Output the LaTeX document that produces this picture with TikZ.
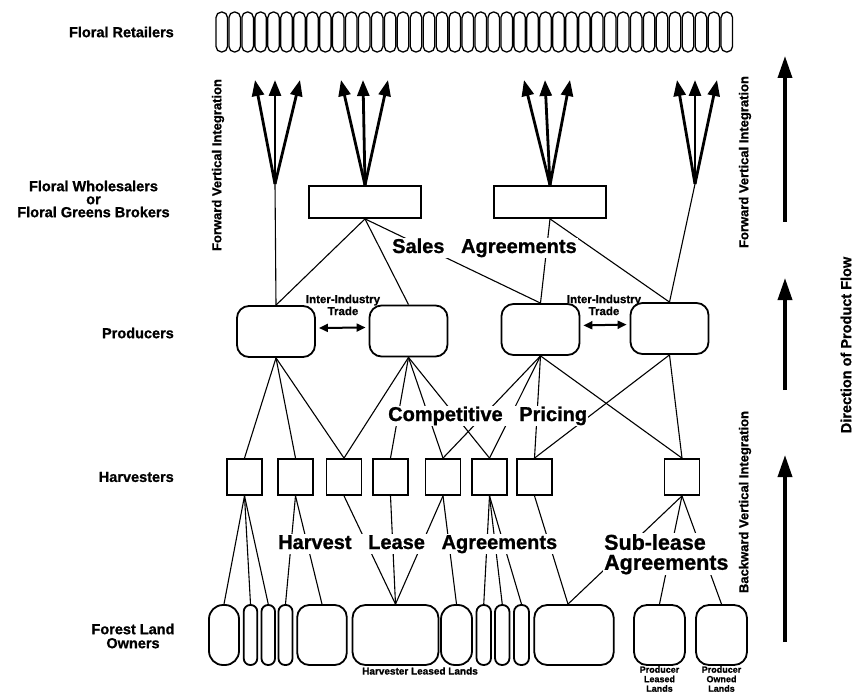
\documentclass[tikz,border=0pt]{standalone}
\usepackage{fontspec}
\setmainfont{Liberation Sans}[BoldFeatures={FakeBold=1}]
\usetikzlibrary{arrows.meta,positioning,calc}

\begin{document}
\begin{tikzpicture}[x=1pt,y=-1pt,
    retailer/.style={draw,line width=1.3pt,rounded corners=5.5pt,minimum width=11.5pt,minimum height=40pt,inner sep=0pt},
    wholesaler/.style={draw,line width=1.8pt,minimum width=112pt,minimum height=32pt,inner sep=0pt},
    producer/.style={draw,line width=1.8pt,rounded corners=12pt,minimum width=78pt,minimum height=51pt,inner sep=0pt},
    harvester/.style={draw,line width=1.8pt,minimum width=35pt,minimum height=36pt,inner sep=0pt},
    land/.style={draw,line width=1.8pt,minimum height=60pt,inner sep=0pt},
    link/.style={line width=1.1pt},
    fanarrow/.style={line width=2.8pt,-{Triangle[length=16pt,width=12pt]}},
    flowarrow/.style={line width=3.5pt,-{Triangle[length=22pt,width=14pt]}},
    tradearrow/.style={line width=2pt,{Triangle[length=9pt,width=8pt]}-{Triangle[length=9pt,width=8pt]},shorten <=3pt,shorten >=3pt},
    level/.style={font=\fontsize{14.5}{13}\selectfont\bfseries,align=center,inner sep=0pt},
    deal/.style={font=\fontsize{20}{20}\selectfont\bfseries,fill=white,inner sep=1pt},
    side/.style={font=\fontsize{13}{14}\selectfont\bfseries,rotate=90,inner sep=0pt},
    note/.style={font=\fontsize{10}{12}\selectfont\bfseries,align=center,inner sep=0pt}]
    \useasboundingbox (0,0) rectangle (857,695);

    % Retailers
    \foreach \i in {0,...,39}
        \node[retailer] (r\i) at ({221.75+12.95*\i},32) {};

    % Wholesalers and brokers
    \node[wholesaler] (w1) at (365,202) {};
    \node[wholesaler] (w2) at (550,202) {};

    % Producers
    \node[producer] (p1) at (276,331.5) {};
    \node[producer] (p2) at (408.5,331) {};
    \node[producer] (p3) at (540.5,329.5) {};
    \node[producer] (p4) at (669.5,328.5) {};

    % Harvesters
    \foreach \n/\x in {h1/244.5,h2/295.5,h3/344,h4/390.5,h5/443,h6/489.5,h7/534.5,h8/682}
        \node[harvester] (\n) at (\x,477) {};

    % Forest land owners
    \foreach \n/\x/\w/\r in {l1/224/30/14,l2/250.5/13.5/6.5,l3/268.25/13.5/6.5,l4/285.5/14/6.5,
        l5/322/49.5/12,l6/395.5/86/13,l7/456.5/31/14,l8/483.75/14.5/7,l9/502.25/14.5/7,
        l10/521.5/15/7,l11/574/79.5/13,l12/659.5/51/13,l13/721.5/51/13}
        \node[land,minimum width=\w pt,rounded corners=\r pt] (\n) at (\x,635) {};

    % Forward integration fans
    \coordinate (j1) at (275,184);
    \coordinate (j4) at (695,184);
    \foreach \n/\x in {f1a/255,f1b/275,f1c/300,f2a/341,f2b/363,f2c/388,
        f3a/524,f3b/545,f3c/570,f4a/677,f4b/695,f4c/717}
        \coordinate (\n) at (\x,80);
    \foreach \j/\f in {j1/f1,w1.north/f2,w2.north/f3,j4/f4}
        \foreach \k in {a,b,c}
            \draw[fanarrow] (\j) -- (\f\k);
    \draw[link] (j1) -- (p1.north);
    \draw[link] (j4) -- (p4.north);

    % Sales agreements
    \foreach \a/\b in {p1/w1,p2/w1,p3/w1,p3/w2,p4/w2}
        \draw[link] (\a.north) -- (\b.south);

    % Inter-industry trade
    \draw[tradearrow] ([yshift=3.5pt]p1.east) -- ([yshift=3.5pt]p2.west);
    \draw[tradearrow] ([yshift=4pt]p3.east) -- ([yshift=4pt]p4.west);
    \node[note,font=\fontsize{11.5}{12}\selectfont\bfseries] (trade1) at (343,305) {Inter-Industry\\Trade};
    \node[note,font=\fontsize{11.5}{12}\selectfont\bfseries] (trade2) at (604,305) {Inter-Industry\\Trade};

    % Competitive pricing
    \foreach \a/\b in {p1/h1,p1/h2,p1/h3,p2/h3,p2/h4,p2/h5,p2/h6,
        p3/h5,p3/h6,p3/h7,p3/h8,p4/h7,p4/h8}
        \draw[link] (\a.south) -- (\b.north);

    % Lease agreements
    \foreach \a/\b in {h1/l1,h1/l2,h1/l3,h2/l4,h2/l5,h3/l6,h4/l6,h5/l6,
        h5/l7,h6/l8,h6/l9,h6/l10,h8/l12,h8/l13}
        \draw[link] (\a.south) -- (\b.north);
    \draw[link] (h7.south) -- ([xshift=-6pt]l11.north);
    \draw[link] (h8.south) -- ([xshift=-6pt]l11.north);

    % Agreement labels
    \node[deal,anchor=base west] (sales) at (391,253) {Sales~~~Agreements};
    \node[deal,anchor=base west] (pricing) at (387,421) {Competitive~~~Pricing};
    \node[deal,anchor=base west] (lease) at (277,549) {Harvest~~~Lease~~~Agreements};
    \node[deal,anchor=north west,align=left,font=\fontsize{21.5}{20}\selectfont\bfseries] (sublease) at (603,533) {Sub-lease\\Agreements};

    % Level names
    \node[level,anchor=east] (retail) at (174,32) {Floral Retailers};
    \node[level] (whole) at (93.5,199) {Floral Wholesalers\\or\\Floral Greens Brokers};
    \node[level,anchor=east] (prod) at (174,333) {Producers};
    \node[level,anchor=east] (harv) at (174,477) {Harvesters};
    \node[level,font=\fontsize{14.5}{14}\selectfont\bfseries] (owners) at (133,636) {Forest Land\\Owners};

    % Land notes
    \node[note] (hll) at (420,671) {Harvester Leased Lands};
    \node[note,anchor=north,font=\fontsize{9}{9.5}\selectfont\bfseries] (pll) at (659.5,666) {Producer\\Leased\\Lands};
    \node[note,anchor=north,font=\fontsize{9}{9.5}\selectfont\bfseries] (pol) at (721.5,666) {Producer\\Owned\\Lands};

    % Direction of flow
    \node[side] (fwd1) at (218,165) {Forward Vertical Integration};
    \node[side] (fwd2) at (745,162) {Forward Vertical Integration};
    \node[side] (bwd) at (745,502) {Backward Vertical Integration};
    \node[side,font=\fontsize{14.5}{14}\selectfont\bfseries] (dir) at (846,345) {Direction of Product Flow};
    \coordinate (d1s) at (785,222);
    \coordinate (d1e) at (785,56);
    \coordinate (d2s) at (785,390);
    \coordinate (d2e) at (785,278);
    \coordinate (d3s) at (785,642);
    \coordinate (d3e) at (785,455);
    \draw[flowarrow] (d1s) -- (d1e);
    \draw[flowarrow] (d2s) -- (d2e);
    \draw[flowarrow] (d3s) -- (d3e);
\end{tikzpicture}
\end{document}
